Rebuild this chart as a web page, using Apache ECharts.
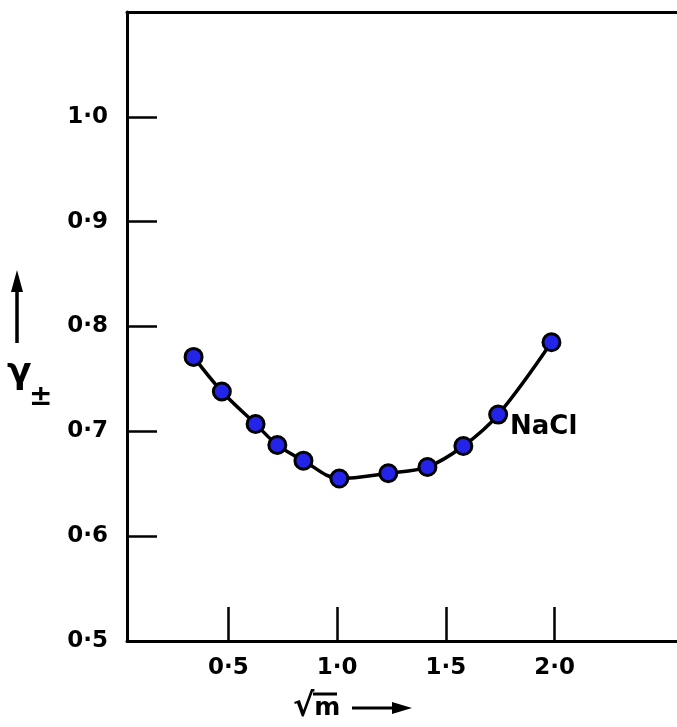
<!DOCTYPE html>
<html>
<head>
<meta charset="utf-8">
<script src="https://cdn.jsdelivr.net/npm/echarts@6/dist/echarts.min.js"></script>
<style>html,body{margin:0;padding:0;background:#fff}#c{width:677px;height:727px}</style>
</head>
<body>
<div id="c"></div>
<script>
const sqrtM = [0.34, 0.47, 0.625, 0.725, 0.845, 1.01, 1.235, 1.415, 1.58, 1.74, 1.985];
const gammaPM = [0.771, 0.738, 0.707, 0.687, 0.672, 0.655, 0.660, 0.666, 0.686, 0.716, 0.785];
const xTicks = [0.5, 1.0, 1.5, 2.0];
const yTicks = [0.5, 0.6, 0.7, 0.8, 0.9, 1.0];
const seriesName = 'NaCl';

const FONT = '"DejaVu Sans", "Liberation Sans", Arial, sans-serif';
const fmt = v => Number(v).toFixed(1).replace('.', '\u00B7');

const chart = echarts.init(document.getElementById('c'), null, {renderer: 'canvas'});
chart.setOption({
  animation: false,
  backgroundColor: '#fff',
  grid: {left: 127, right: 0, top: 12, bottom: 86, containLabel: false},
  xAxis: [{
    type: 'value', min: 0.034, max: 2.562, position: 'bottom',
    splitLine: {show: false},
    axisLine: {show: true, lineStyle: {color: '#000', width: 3}},
    axisTick: {show: true, inside: true, length: 34, customValues: xTicks, lineStyle: {color: '#000', width: 2.5}},
    axisLabel: {show: true, customValues: xTicks, formatter: fmt, margin: 16, color: '#000',
      fontSize: 23, fontWeight: 'bold', fontFamily: FONT}
  }, {
    type: 'value', min: 0.034, max: 2.562, position: 'top',
    splitLine: {show: false},
    axisLine: {show: true, lineStyle: {color: '#000', width: 3}},
    axisTick: {show: false}, axisLabel: {show: false}
  }],
  yAxis: {
    type: 'value', min: 0.5, max: 1.1,
    splitLine: {show: false},
    axisLine: {show: true, lineStyle: {color: '#000', width: 3}},
    axisTick: {show: true, inside: true, length: 30, customValues: yTicks, lineStyle: {color: '#000', width: 2.5}},
    axisLabel: {show: true, customValues: yTicks, formatter: fmt, margin: 19, color: '#000',
      fontSize: 23, fontWeight: 'bold', fontFamily: FONT}
  },
  series: [{
    name: seriesName,
    type: 'line',
    data: sqrtM.map((x, i) => [x, gammaPM[i]]),
    smooth: 0.35,
    lineStyle: {color: '#000', width: 3.5},
    symbol: 'circle',
    symbolSize: 17,
    itemStyle: {color: '#2424e8', borderColor: '#000', borderWidth: 3},
    z: 5
  }],
  graphic: [
    {type: 'text', x: 510, y: 427, style: {text: 'NaCl', fill: '#000', font: 'bold 26px ' + FONT, verticalAlign: 'middle'}},
    // x axis title: sqrt(m) with arrow
    {type: 'text', x: 293, y: 708, style: {
      text: '{r|\u221A}{m|m}', verticalAlign: 'middle',
      rich: {
        r: {fontSize: 32, fontWeight: 'bold', fontFamily: FONT, fill: '#000', color: '#000'},
        m: {fontSize: 25, fontWeight: 'bold', fontFamily: FONT, fill: '#000', color: '#000'}
      }
    }},
    {type: 'line', shape: {x1: 313, y1: 694, x2: 337, y2: 694}, style: {stroke: '#000', lineWidth: 3}},
    {type: 'line', shape: {x1: 352, y1: 708, x2: 395, y2: 708}, style: {stroke: '#000', lineWidth: 3}},
    {type: 'polygon', shape: {points: [[392, 702], [412, 708], [392, 714]]}, style: {fill: '#000'}},
    // y axis title: arrow and gamma±
    {type: 'line', shape: {x1: 17, y1: 285, x2: 17, y2: 343}, style: {stroke: '#000', lineWidth: 3.5}},
    {type: 'polygon', shape: {points: [[11, 292], [17, 270], [23, 292]]}, style: {fill: '#000'}},
    {type: 'text', x: 7, y: 374, style: {text: '\u03B3', fill: '#000', font: 'bold 36px ' + FONT, verticalAlign: 'middle'}},
    {type: 'text', x: 29, y: 398, style: {text: '\u00B1', fill: '#000', font: 'bold 28px ' + FONT, verticalAlign: 'middle'}}
  ]
});
</script>
</body>
</html>
